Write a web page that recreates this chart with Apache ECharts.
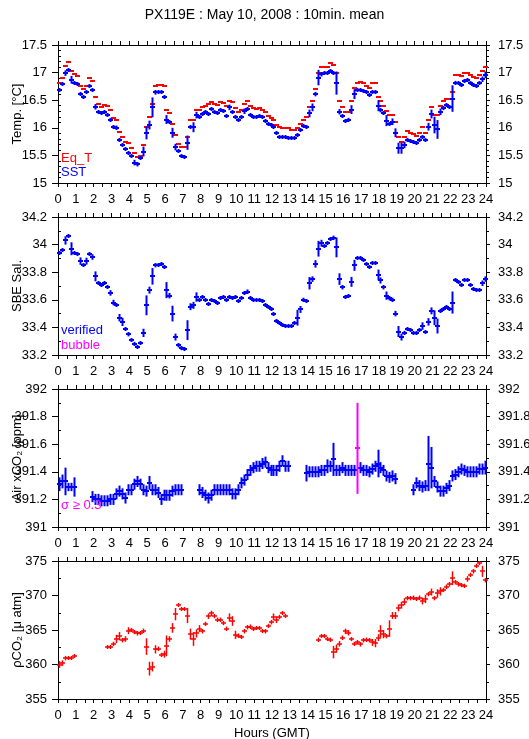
<!DOCTYPE html>
<html>
<head>
<meta charset="utf-8">
<script src="https://cdn.jsdelivr.net/npm/echarts@6/dist/echarts.min.js"></script>
<style>
html,body{margin:0;padding:0;background:#fff;}
#chart{width:529px;height:739px;}
</style>
</head>
<body>
<div id="chart"></div>
<script>
// ---------- DATA (10-minute means, index k -> hour (k+0.5)/6) ----------
const titleText = "PX119E : May 10, 2008 : 10min. mean";
const hourTicks = [0,1,2,3,4,5,6,7,8,9,10,11,12,13,14,15,16,17,18,19,20,21,22,23,24];

const sst = [
16.68,16.79,16.99,17.05,16.87,16.82,16.79,16.62,16.56,16.64,
16.75,16.68,16.38,16.28,16.26,16.28,16.24,16.15,16.02,16.00,
15.78,15.69,15.61,15.55,15.49,15.37,15.34,15.45,15.57,15.91,
16.05,16.37,16.64,16.65,16.64,16.56,16.15,16.11,15.91,15.65,
15.58,15.49,15.47,15.73,16.01,16.01,16.23,16.19,16.25,16.29,
16.25,16.34,16.29,16.26,16.32,16.31,16.21,16.37,16.29,16.19,
16.14,16.19,16.30,16.34,16.23,16.20,16.20,16.21,16.19,16.13,
16.07,16.05,16.01,15.90,15.84,15.84,15.84,15.82,15.81,15.81,
15.87,15.96,16.04,16.01,16.26,16.37,16.61,16.91,16.97,16.99,
17.00,17.02,17.00,16.81,16.29,16.21,16.13,16.15,16.33,16.61,
16.68,16.69,16.67,16.64,16.59,16.65,16.64,16.40,16.32,16.27,
16.13,16.07,16.11,15.91,15.63,15.63,15.69,15.78,15.76,15.74,
15.72,15.78,15.84,15.78,16.02,16.25,16.05,15.97,16.29,16.35,
16.41,16.37,16.53,16.82,16.81,16.78,16.84,16.86,16.81,16.78,
16.76,16.81,16.88,16.96];
const sstErr = [
.02,.02,.05,.02,.07,.02,.02,.03,.03,.02,
.03,.02,.05,.02,.02,.02,.02,.03,.03,.04,
.03,.03,.02,.02,.02,.05,.04,.03,.09,.12,
.08,.18,.04,.02,.02,.03,.08,.03,.09,.06,
.03,.02,.03,.13,.02,.09,.06,.02,.03,.02,
.02,.03,.02,.02,.02,.02,.02,.05,.02,.02,
.03,.02,.05,.02,.02,.02,.02,.02,.02,.02,
.02,.02,.02,.03,.02,.02,.02,.02,.02,.02,
.03,.03,.02,.02,.07,.07,.04,.14,.04,.02,
.02,.02,.02,.21,.05,.03,.03,.03,.08,.09,
.02,.02,.02,.02,.02,.02,.02,.10,.04,.03,
.10,.03,.06,.08,.10,.10,.06,.03,.02,.02,
.02,.03,.03,.03,.07,.08,.15,.17,.06,.03,
.03,.03,.24,.03,.02,.02,.02,.02,.02,.02,
.02,.03,.05,.06];
const eqT = [
16.82,16.91,17.12,17.19,17.02,16.97,16.93,16.76,16.70,16.76,
16.90,16.85,16.56,16.43,16.37,16.41,16.39,16.33,16.17,16.14,
15.93,15.84,15.75,15.73,15.63,15.54,15.48,15.49,15.69,16.02,
16.20,16.44,16.76,16.78,16.78,16.75,16.33,16.26,16.07,15.87,
15.71,15.65,15.65,15.83,16.14,16.15,16.32,16.32,16.37,16.39,
16.43,16.47,16.44,16.41,16.47,16.45,16.39,16.49,16.47,16.35,
16.29,16.32,16.44,16.49,16.39,16.35,16.34,16.35,16.33,16.28,
16.22,16.18,16.15,16.05,16.01,15.99,15.99,15.99,15.96,15.96,
15.99,16.06,16.14,16.19,16.38,16.49,16.71,16.99,17.11,17.10,
17.11,17.17,17.14,17.00,16.49,16.37,16.28,16.28,16.49,16.72,
16.82,16.83,16.82,16.76,16.72,16.81,16.81,16.56,16.49,16.40,
16.31,16.23,16.24,16.10,15.83,15.75,15.83,15.94,15.91,15.89,
15.85,15.91,16.02,15.91,16.14,16.37,16.24,16.24,16.40,16.49,
16.53,16.52,16.64,16.96,16.96,16.93,16.99,17.00,16.96,16.92,
16.91,16.96,17.03,17.10];

const salinity = [
33.94,33.96,34.03,34.06,33.97,33.94,33.93,33.88,33.85,33.88,
33.93,33.91,33.77,33.72,33.71,33.72,33.69,33.65,33.58,33.56,
33.47,33.44,33.39,33.35,33.31,33.28,33.26,33.29,33.36,33.56,
33.67,33.77,33.85,33.85,33.86,33.84,33.67,33.63,33.50,33.33,
33.27,33.25,33.24,33.38,33.55,33.56,33.62,33.60,33.62,33.60,
33.57,33.60,33.59,33.58,33.61,33.62,33.60,33.62,33.61,33.62,
33.59,33.61,33.65,33.66,33.61,33.60,33.60,33.60,33.59,33.56,
33.55,33.53,33.50,33.45,33.43,33.42,33.41,33.41,33.41,33.43,
33.47,33.53,33.60,33.59,33.72,33.75,33.86,33.97,34.01,33.99,
34.01,34.04,34.05,33.98,33.75,33.69,33.62,33.63,33.73,33.85,
33.90,33.90,33.89,33.86,33.84,33.87,33.87,33.78,33.74,33.69,
33.63,33.61,33.60,33.50,33.37,33.33,33.36,33.39,33.38,33.36,
33.36,33.38,33.41,33.37,33.44,33.52,33.47,33.41,33.52,33.53,
33.55,33.53,33.58,33.74,33.73,33.71,33.74,33.74,33.71,33.68,
33.67,33.67,33.72,33.75];
const salinityErr = [
.008,.008,.03,.01,.047,.01,.008,.027,.01,.025,
.008,.02,.036,.008,.008,.008,.008,.02,.02,.01,
.027,.03,.01,.015,.01,.015,.01,.01,.03,.072,
.025,.06,.015,.008,.008,.008,.058,.02,.057,.025,
.015,.015,.01,.072,.025,.025,.034,.008,.008,.008,
.008,.01,.008,.008,.01,.008,.008,.008,.01,.008,
.01,.01,.01,.015,.008,.008,.008,.008,.008,.008,
.008,.01,.01,.008,.008,.008,.008,.008,.008,.01,
.057,.025,.015,.01,.045,.02,.027,.057,.025,.01,
.01,.01,.015,.072,.042,.015,.01,.01,.036,.04,
.01,.008,.008,.01,.008,.01,.01,.039,.022,.015,
.03,.015,.015,.02,.04,.025,.015,.01,.01,.008,
.008,.01,.027,.01,.027,.025,.054,.054,.015,.01,
.01,.01,.08,.01,.008,.01,.01,.01,.01,.01,
.01,.01,.02,.02];

const airCO2 = [
391.31,391.33,391.33,391.29,391.29,391.29,null,null,null,null,
null,391.22,391.20,391.20,391.19,391.19,391.19,391.20,391.20,391.24,
391.26,391.24,391.21,391.27,391.27,391.31,391.33,391.31,391.27,391.26,
391.32,391.27,391.27,391.25,391.20,391.23,391.23,391.23,391.26,391.27,
391.27,391.27,null,null,null,null,null,391.27,391.25,391.23,
391.21,391.23,391.27,391.27,391.27,391.27,391.27,391.27,391.24,391.24,
391.27,391.32,391.34,391.38,391.41,391.43,391.44,391.44,391.46,391.47,
391.43,391.41,391.41,391.41,391.44,391.48,391.44,391.44,null,null,
null,null,null,391.39,391.40,391.40,391.40,391.40,391.41,391.41,
391.44,391.44,391.49,391.41,391.41,391.43,391.41,391.41,391.41,391.41,
391.57,391.43,391.41,391.41,391.40,391.42,391.44,391.46,391.43,391.41,
391.37,391.36,391.37,391.35,null,null,null,null,null,391.27,
391.32,391.30,391.29,391.30,391.46,391.43,391.33,391.29,391.26,391.26,
391.28,391.30,391.37,391.38,391.40,391.42,391.41,391.40,391.40,391.40,
391.40,391.42,391.42,391.43];
const airCO2Err = [
.05,.05,.10,.03,.03,.07,0,0,0,0,
0,.04,.04,.04,.04,.04,.04,.04,.04,.04,
.04,.04,.04,.04,.04,.04,.04,.04,.04,.04,
.05,.04,.04,.04,.04,.04,.04,.04,.04,.04,
.04,.04,0,0,0,0,0,.04,.04,.04,
.04,.04,.04,.04,.04,.04,.04,.04,.04,.04,
.04,.04,.04,.04,.04,.04,.04,.04,.04,.04,
.04,.04,.04,.04,.04,.04,.04,.04,0,0,
0,0,0,.06,.04,.04,.04,.04,.04,.04,
.05,.04,.12,.04,.04,.04,.04,.04,.04,.04,
.33,.04,.04,.04,.04,.04,.04,.10,.04,.04,
.04,.04,.04,.04,0,0,0,0,0,.04,
.04,.04,.04,.04,.20,.15,.04,.04,.04,.04,
.04,.04,.04,.04,.04,.04,.04,.04,.04,.04,
.04,.04,.04,.05];
const airHighSigma = [100];   // indices with sigma >= 0.3

const pCO2 = [
360.0,360.2,360.9,360.9,361.0,361.2,null,null,null,null,
null,null,null,null,null,null,362.5,362.6,363.0,363.7,
364.1,363.5,363.7,364.9,365.0,364.7,364.5,364.6,364.9,362.6,
359.4,359.7,362.2,362.3,361.4,361.5,362.7,363.7,365.3,367.3,
368.6,368.0,368.0,367.1,364.4,363.7,364.5,365.2,364.8,365.9,
367.0,367.4,367.0,366.5,366.5,366.0,365.2,366.8,366.3,364.3,
364.2,364.0,364.8,365.4,365.5,365.2,365.3,365.3,364.9,364.8,
365.6,366.1,366.9,366.5,366.9,367.4,367.0,null,null,null,
null,null,null,null,null,null,null,363.6,364.2,364.1,
363.7,363.6,361.8,362.3,363.0,363.9,364.8,364.6,363.7,363.0,
363.2,362.9,363.5,363.6,363.5,363.2,363.1,363.9,364.8,364.4,
364.1,365.2,367.1,367.1,368.2,368.6,369.1,369.6,369.6,369.7,
369.5,369.7,369.2,369.5,370.2,370.5,369.6,370.3,370.6,370.8,
371.3,371.6,372.5,371.9,371.6,371.5,371.4,372.4,373.0,373.5,
374.3,374.7,373.5,372.2];
const pCO2Err = [
.5,.4,.3,.2,.2,.2,0,0,0,0,
0,0,0,0,0,0,.2,.2,.3,.6,
.6,.3,.4,.5,.3,.3,.3,.2,.3,1.2,
1.0,.7,.6,.3,.3,.5,1.5,.4,.7,.9,
.2,.2,.2,1.1,.8,1.0,.6,.5,.3,.3,
.4,.4,.3,.3,.3,.3,.3,.6,.7,.6,
.3,.2,.3,.3,.3,.2,.2,.2,.2,.3,
.3,.3,.5,.5,.3,.2,.2,0,0,0,
0,0,0,0,0,0,0,.3,.2,.2,
.3,.3,.9,.6,.4,.3,.4,.4,.3,.3,
.3,.3,.3,.3,.3,.5,.6,.5,.9,.6,
.3,1.2,.5,.5,.5,.5,.5,.3,.3,.3,
.3,.3,.5,.6,.3,.5,.3,.6,.6,.3,
.3,.3,1.0,.3,.3,.3,.3,.4,.3,.3,
.3,.3,.8,.3];

// ---------- BUILD ----------
const FONT = 'Liberation Sans, Arial, sans-serif';
const hourOf = k => (k + 0.5) / 6;
function pts(vals, errs, keep) {
  const out = [];
  vals.forEach((v, k) => {
    if (v === null || v === undefined) return;
    if (keep && !keep(k)) return;
    out.push([hourOf(k), v, errs ? errs[k] : 0]);
  });
  return out;
}
function crossRenderer(color, lw, half, bar) {
  return function (params, api) {
    const t = api.value(0), v = api.value(1), e = api.value(2);
    const c = api.coord([t, v]);
    const x = Math.round(c[0]) + 0.5;
    const y = Math.round(c[1]);
    const ch = [{type:'line', shape:{x1:x-half-0.5, y1:y, x2:x+half+0.5, y2:y},
                 style:{stroke:color, lineWidth:lw}}];
    if (bar) {
      const hi = api.coord([t, v + e])[1], lo = api.coord([t, v - e])[1];
      ch.push({type:'line', shape:{x1:x, y1:Math.min(hi, y-2), x2:x, y2:Math.max(lo, y+2)},
               style:{stroke:color, lineWidth:lw}});
    }
    return {type:'group', children: ch};
  };
}

const grids = [
  {top:45, name:'Temp. [°C]', min:15, max:17.5, interval:0.5, minor:5},
  {top:217, name:'SBE Sal.', min:33.2, max:34.2, interval:0.2, minor:2},
  {top:389, name:'Air xCO₂ [ppm]', min:391, max:392, interval:0.2, minor:2},
  {top:561, name:'ρCO₂ [μ atm]', min:355, max:375, interval:5, minor:2}
];
const black = {color:'#000', width:1};
const xAxes = [], yAxes = [], gridOpts = [];
grids.forEach((g, i) => {
  gridOpts.push({left:58, width:428, top:g.top, height:138, show:false,
                 containLabel:false, outerBoundsMode:'none'});
  xAxes.push({gridIndex:i, type:'value', min:0, max:24, interval:1, position:'bottom',
    axisLine:{show:true, onZero:false, lineStyle:black},
    axisTick:{show:true, inside:false, length:4, lineStyle:black},
    minorTick:{show:true, splitNumber:2, length:4, lineStyle:black},
    axisLabel:{show:true, margin:10, color:'#000', fontSize:13, fontFamily:FONT,
               formatter: v => hourTicks.includes(v) ? String(v) : ''},
    splitLine:{show:false},
    name: i === 3 ? 'Hours (GMT)' : '', nameLocation:'middle', nameGap:28, nameMoveOverlap:false,
    nameTextStyle:{color:'#000', fontSize:13, fontFamily:FONT}});
  xAxes.push({gridIndex:i, type:'value', min:0, max:24, interval:1, position:'top',
    axisLine:{show:true, onZero:false, lineStyle:black},
    axisTick:{show:true, inside:false, length:4, lineStyle:black},
    minorTick:{show:true, splitNumber:2, length:4, lineStyle:black},
    axisLabel:{show:false}, splitLine:{show:false}});
  yAxes.push({gridIndex:i, type:'value', min:g.min, max:g.max, interval:g.interval, position:'left',
    axisLine:{show:true, onZero:false, lineStyle:black},
    axisTick:{show:true, inside:false, length:6, lineStyle:black},
    axisLabel:{show:true, margin:11, color:'#000', fontSize:13, fontFamily:FONT},
    splitLine:{show:false},
    name:g.name, nameLocation:'middle', nameGap:34, nameRotate:90, nameMoveOverlap:false,
    nameTextStyle:{color:'#000', fontSize:13, fontFamily:FONT}});
  yAxes.push({gridIndex:i, type:'value', min:g.min, max:g.max, interval:g.interval, position:'left',
    axisLine:{show:false}, axisTick:{show:false, inside:true, length:3},
    minorTick:{show:true, splitNumber:g.minor, length:3, lineStyle:black},
    axisLabel:{show:false}, splitLine:{show:false}});
  yAxes.push({gridIndex:i, type:'value', min:g.min, max:g.max, interval:g.interval, position:'right',
    axisLine:{show:true, onZero:false, lineStyle:black},
    axisTick:{show:true, inside:false, length:4, lineStyle:black},
    minorTick:{show:true, splitNumber:g.minor, length:3, lineStyle:black},
    axisLabel:{show:true, margin:12, color:'#000', fontSize:13, fontFamily:FONT},
    splitLine:{show:false}});
});

function cs(name, gi, data, color, lw, half, bar) {
  return {type:'custom', name, xAxisIndex:2*gi, yAxisIndex:3*gi, data,
    dimensions:['t','v','e'], encode:{x:0, y:1},
    renderItem: crossRenderer(color, lw, half, bar), animation:false, silent:true};
}
const RED = '#ff0000', BLUE = '#0000ff', MAG = '#ff00ff';
const series = [
  cs('Eq_T', 0, pts(eqT, null), RED, 2, 2, false),
  cs('SST', 0, pts(sst, sstErr), BLUE, 2, 2, true),
  cs('SBE Sal.', 1, pts(salinity, salinityErr), BLUE, 2, 2, true),
  cs('Air xCO2', 2, pts(airCO2, airCO2Err, k => !airHighSigma.includes(k)), BLUE, 2, 2, true),
  cs('Air xCO2 sigma', 2, pts(airCO2, airCO2Err, k => airHighSigma.includes(k)), MAG, 2, 2, true),
  cs('pCO2', 3, pts(pCO2, pCO2Err), RED, 1.5, 2, true)
];

function legendText(txt, x, y, color) {
  return {type:'text', x:x, y:y, style:{text:txt, fill:color, font:'13px ' + FONT,
          textVerticalAlign:'middle', verticalAlign:'middle'}, z:10};
}

const chart = echarts.init(document.getElementById('chart'), null, {renderer:'canvas'});
chart.setOption({
  backgroundColor:'#fff',
  animation:false,
  title:{text:titleText, left:'center', top:3,
         textStyle:{fontSize:14, fontWeight:'normal', color:'#000', fontFamily:FONT}},
  grid:gridOpts, xAxis:xAxes, yAxis:yAxes, series,
  graphic:[
    legendText('Eq_T', 61, 158, RED),
    legendText('SST', 61, 172, BLUE),
    legendText('verified', 61, 330, BLUE),
    legendText('bubble', 61, 345, MAG),
    legendText('σ ≥ 0.3', 61, 505, MAG)
  ]
});
</script>
</body>
</html>
